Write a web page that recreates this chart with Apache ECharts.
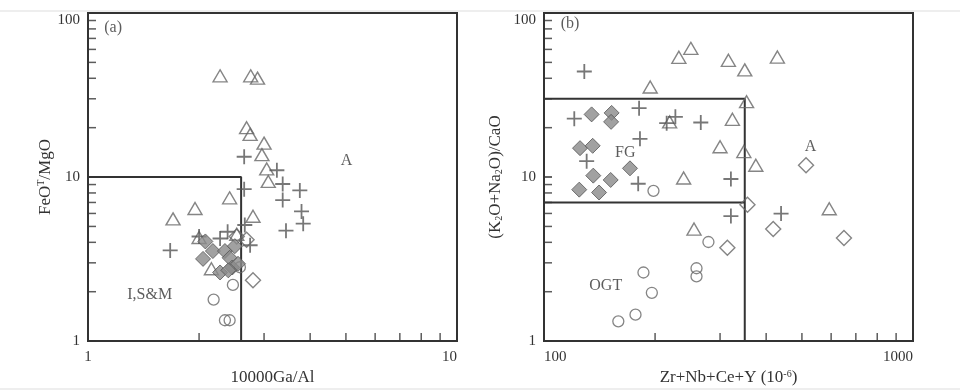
<!DOCTYPE html>
<html><head><meta charset="utf-8">
<script src="https://cdn.jsdelivr.net/npm/echarts@6/dist/echarts.min.js"></script>
<style>html,body{margin:0;padding:0;background:#fff}#c{width:960px;height:391px}</style>
</head><body><div id="c"></div>
<script>
// ---------- Panel (a): 10000Ga/Al vs FeOT/MgO ----------
const aTriangles = [[2.28,41.4],[2.76,41.4],[2.88,40.1],[2.69,20.0],[2.75,18.2],[3.0,16.1],[2.96,13.7],[3.05,11.2],[3.08,9.4],[2.42,7.47],[1.95,6.43],[1.70,5.56],[2.80,5.77],[2.0,4.28],[2.16,2.76],[2.53,4.48]];
const aCrosses = [[2.65,13.3],[3.25,11.0],[3.37,9.07],[2.65,8.44],[3.75,8.29],[3.37,7.24],[3.79,6.17],[3.83,5.2],[3.44,4.71],[1.67,3.57],[2.0,4.34],[2.28,4.22],[2.39,4.64],[2.75,3.84],[2.66,5.1]];
const aDiamondsFilled = [[2.08,4.05],[2.18,3.54],[2.05,3.17],[2.28,2.62],[2.35,3.54],[2.42,3.22],[2.50,3.79],[2.46,2.81],[2.55,2.96],[2.40,2.70]];
const aDiamondsOpen = [[2.80,2.35],[2.69,4.15],[2.53,4.34]];
const aCircles = [[2.19,1.79],[2.47,2.2],[2.35,1.34],[2.42,1.34],[2.58,2.82]];
const aBoundary = [[1,10],[2.6,10],[2.6,1]];
const aLabels = [{name:'(a)',value:[1.17,81.5]},{name:'A',value:[5.02,12.5]},{name:'I,S&M',value:[1.47,1.92]}];
const aXMinor = [2,3,4,5,6,7,8,9];
const aYMinor = [2,3,4,5,6,7,8,9,20,30,40,50,60,70,80,90];

// ---------- Panel (b): Zr+Nb+Ce+Y vs (K2O+Na2O)/CaO ----------
const bTriangles = [[250,60.9],[232,53.7],[316,51.5],[350,45],[429,53.9],[194,35.4],[354,28.8],[219,21.7],[324,22.5],[300,15.3],[348,14.3],[375,11.8],[239,9.87],[593,6.41],[255,4.82]];
const bCrosses = [[128.6,44],[181,26.3],[120.8,22.7],[227,23.3],[215,21.3],[266,21.5],[182,17.1],[130.5,12.5],[180,9.1],[321,9.73],[321,5.78],[439,5.99]];
const bDiamondsFilled = [[134.6,24.1],[152.5,24.6],[152,21.7],[125.2,15],[135.5,15.5],[171,11.3],[136,10.2],[151.6,9.6],[124.6,8.38],[141,8.05]];
const bDiamondsOpen = [[513,11.8],[356,6.77],[418,4.82],[650,4.25],[314,3.71]];
const bCircles = [[198,8.24],[279,4.02],[259,2.78],[259,2.48],[186,2.62],[196,1.97],[177,1.45],[159,1.32]];
const bBoundaryTop = [[100,30],[350,30],[350,1]];
const bBoundaryMid = [[100,7],[350,7]];
const bLabels = [{name:'(b)',value:[117.6,85.5]},{name:'FG',value:[166,14.1]},{name:'A',value:[528,15.2]},{name:'OGT',value:[147,2.18]}];
const bXMinor = [200,300,400,500,600,700,800,900];
const bYMinor = [2,3,4,5,6,7,8,9,20,30,40,50,60,70,80,90];

const serif = '"Liberation Serif","Times New Roman",serif';
const txt = '#333';
const frame = '#333';
const mark = '#666';
const plusPath = 'path://M4.4,0h1.2v4.4h4.4v1.2h-4.4v4.4h-1.2v-4.4h-4.4v-1.2h4.4z';

function axisBase(gi, min, max) {
  return {
    type: 'log', logBase: 10, gridIndex: gi, min: min, max: max,
    splitLine: {show: false},
    axisLine: {show: true, lineStyle: {color: frame, width: 2}},
    axisTick: {show: true, inside: true, length: 8, lineStyle: {color: frame, width: 1.5}},
    axisLabel: {color: txt, fontFamily: serif, fontSize: 15, margin: 8, formatter: v => String(v)},
    nameLocation: 'middle',
    nameTextStyle: {color: txt, fontFamily: serif, fontSize: 17,
      rich: {
        sup: {fontSize: 10, verticalAlign: 'top', color: txt, fontFamily: serif},
        sub: {fontSize: 10, verticalAlign: 'bottom', color: txt, fontFamily: serif}
      }}
  };
}
const xA = Object.assign(axisBase(0, 1, 10), {name: '10000Ga/Al', nameGap: 20});
xA.axisLabel = Object.assign({}, xA.axisLabel, {alignMaxLabel: 'right'});
const yA = Object.assign(axisBase(0, 1, 100), {name: 'FeO{sup|T}/MgO', nameGap: 33, nameRotate: 90});
yA.axisLabel = Object.assign({}, yA.axisLabel, {verticalAlignMaxLabel: 'top'});
const xB = Object.assign(axisBase(1, 100, 1000), {name: 'Zr+Nb+Ce+Y (10{sup|-6})', nameGap: 20});
xB.axisLabel = Object.assign({}, xB.axisLabel, {alignMinLabel: 'left', alignMaxLabel: 'right'});
const yB = Object.assign(axisBase(1, 1, 100), {name: '(K{sub|2}O+Na{sub|2}O)/CaO', nameGap: 40, nameRotate: 90});
yB.axisLabel = Object.assign({}, yB.axisLabel, {verticalAlignMaxLabel: 'top'});

function pts(gi, data, symbol, size, style, z) {
  return {type: 'scatter', xAxisIndex: gi, yAxisIndex: gi, data: data, symbol: symbol,
    symbolSize: size, itemStyle: style, z: z || 3, silent: true, clip: false, symbolKeepAspect: true};
}
const openTri = {color: 'rgba(0,0,0,0)', borderColor: mark, borderWidth: 1.4};
const openCirc = {color: 'rgba(0,0,0,0)', borderColor: mark, borderWidth: 1.3};
const openDia = {color: 'rgba(0,0,0,0)', borderColor: mark, borderWidth: 1.4};
const fillDia = {color: '#8a8a8a', borderColor: '#555', borderWidth: 1};
const cross = {color: '#555'};

function boundary(gi, data) {
  return {type: 'line', xAxisIndex: gi, yAxisIndex: gi, data: data, symbol: 'none',
    lineStyle: {color: frame, width: 2}, silent: true, z: 2, clip: false};
}
function minorX(gi, vals, yMin) {
  return {type: 'scatter', xAxisIndex: gi, yAxisIndex: gi, data: vals.map(v => [v, yMin]),
    symbol: 'rect', symbolSize: [1.5, 8], symbolOffset: [0, -4], itemStyle: {color: frame},
    silent: true, clip: false, z: 4};
}
function minorY(gi, vals, xMin) {
  return {type: 'scatter', xAxisIndex: gi, yAxisIndex: gi, data: vals.map(v => [xMin, v]),
    symbol: 'rect', symbolSize: [8, 1.5], symbolOffset: [4, 0], itemStyle: {color: frame},
    silent: true, clip: false, z: 4};
}
function labels(gi, data) {
  return {type: 'scatter', xAxisIndex: gi, yAxisIndex: gi, data: data, symbolSize: 0,
    label: {show: true, position: 'inside', formatter: '{b}', color: txt, fontFamily: serif, fontSize: 16},
    silent: true, z: 5};
}

const chart = echarts.init(document.getElementById('c'), null, {renderer: 'canvas'});
chart.setOption({
  backgroundColor: '#fff',
  animation: false,
  grid: [
    {left: 88, top: 13, width: 369, height: 340, show: true, borderColor: frame, borderWidth: 2, backgroundColor: '#fff'},
    {left: 544, top: 13, width: 369, height: 339, show: true, borderColor: frame, borderWidth: 2, backgroundColor: '#fff'}
  ],
  xAxis: [xA, xB],
  yAxis: [yA, yB],
  graphic: [
    {type: 'line', shape: {x1: 0, y1: 11, x2: 960, y2: 11}, style: {stroke: '#ddd', lineWidth: 1}, silent: true},
    {type: 'line', shape: {x1: 0, y1: 389, x2: 960, y2: 389}, style: {stroke: '#ddd', lineWidth: 1}, silent: true}
  ],
  series: [
    boundary(0, aBoundary),
    minorX(0, aXMinor, 1), minorY(0, aYMinor, 1),
    pts(0, aCircles, 'circle', 11, openCirc),
    pts(0, aTriangles, 'triangle', [14, 12], openTri),
    pts(0, aCrosses, plusPath, 15, cross),
    pts(0, aDiamondsOpen, 'diamond', 15, openDia),
    pts(0, aDiamondsFilled, 'diamond', 15, fillDia, 4),
    labels(0, aLabels),

    boundary(1, bBoundaryTop), boundary(1, bBoundaryMid),
    minorX(1, bXMinor, 1), minorY(1, bYMinor, 100),
    pts(1, bCircles, 'circle', 11, openCirc),
    pts(1, bTriangles, 'triangle', [14, 12], openTri),
    pts(1, bCrosses, plusPath, 15, cross),
    pts(1, bDiamondsOpen, 'diamond', 15, openDia),
    pts(1, bDiamondsFilled, 'diamond', 15, fillDia, 4),
    labels(1, bLabels)
  ]
});
</script>
</body></html>
